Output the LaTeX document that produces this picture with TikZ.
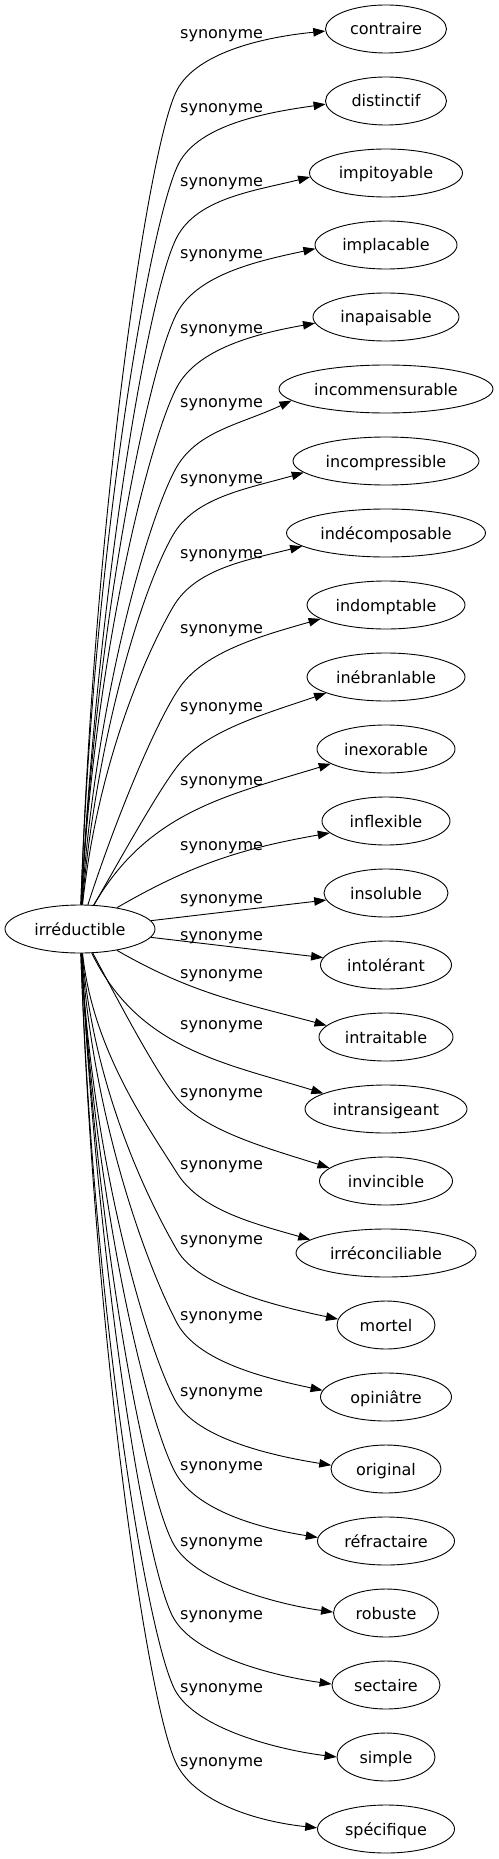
\documentclass[tikz,border=0pt]{standalone}
\usepackage{fontspec}
\setmainfont{DejaVu Sans}
\usetikzlibrary{arrows.meta,shapes.geometric}

\tikzset{
  word/.style={draw, ellipse, line width=0.9pt, inner xsep=0pt, inner ysep=3pt,
    minimum height=48pt, text height=12pt, text depth=0pt,
    font=\fontsize{16pt}{18pt}\selectfont},
  rel/.style={anchor=base west, inner sep=0pt, font=\fontsize{16pt}{18pt}\selectfont},
  syn/.style={-{Triangle[length=12pt,width=8.5pt]}, line width=0.9pt},
}

\begin{document}
\begin{tikzpicture}[x=1pt,y=1pt]
	\useasboundingbox (0,0) rectangle (498,-1859);

	% source word
	\node[word, minimum width=150pt] (irr) at (80,-929) {irréductible};

	% target words and edge labels
	\foreach \n/\word/\size/\lab in {0/contraire/121/38.5, 1/distinctif/121/112.5,
		2/impitoyable/153/186.5, 3/implacable/142/258.8, 4/inapaisable/146/333.2,
		5/incommensurable/214/407.2, 6/incompressible/186/483.2,
		7/indécomposable/199/558.2, 8/indomptable/158/633,
		9/inébranlable/158/711.5, 10/inexorable/138/785.5, 11/inflexible/128/850.5,
		12/insoluble/124/903.2, 13/intolérant/131/940.5, 14/intraitable/134/978.2,
		15/intransigeant/162/1029.5, 16/invincible/133/1097.2,
		17/irréconciliable/180/1169.5, 18/mortel/98/1244.8, 19/opiniâtre/131/1320.5,
		20/original/110/1396.5, 21/réfractaire/137/1470.8, 22/robuste/105/1546.2,
		23/sectaire/108/1619.5, 24/simple/98/1692.8, 25/spécifique/137/1766.5}
	{
		\node[word, minimum width=\size pt] (w\n) at (386,{-29-72*\n}) {\word};
		\node[rel] (l\n) at (180,-\lab) {synonyme};
	}

	% long edges, bent near the labels
	\foreach \n/\s/\bx/\by/\g/\dd/\a/\f in {0/88/177/90/62/60/182/5.5,
		1/88/179/163/62/60/183/8, 2/87/177/237/62/60/183/14,
		3/87/177/313/62/60/183/12, 4/87/177/387/62/60/185/10,
		5/86/175/470/62/60/187/25, 6/85/173/535/60/60/188/16,
		7/84/173/607/60/60/189/14, 8/72/180/687/55/40/192/16,
		9/60/180/763/50/30/195/19,
		16/-62/176/1097/-52/35/167/-18, 17/-84/177/1173/-58/55/170/-16,
		18/-85/177/1250/-60/60/173/-12, 19/-86/177/1323/-62/60/174/-12,
		20/-87/175/1400/-62/60/176/-9, 21/-87/175/1472/-62/60/177/-9,
		22/-87/173/1543/-62/60/179/-8, 23/-87/173/1617/-62/60/179/-8,
		24/-88/175/1690/-62/60/180/-7, 25/-88/177/1765/-62/60/179/-6}
	{
		\draw[syn] (irr) .. controls +(\s:{abs(929-\by)/2}) and +(\g+180:\dd) .. (\bx,-\by)
			.. controls +(\g:44) and +(\f+180:58) .. (w\n.\a);
	}

	% short edges in the middle
	\draw[syn] (irr) to[out=60, in=197] (w10.195);
	\draw[syn] (irr) to[out=30, in=190] (w11.192);
	\draw[syn] (irr) -- (w12);
	\draw[syn] (irr) -- (w13);
	\draw[syn] (irr) to[out=-30, in=165] (w14.169);
	\draw[syn] (irr) to[out=-64, in=163] (w15.166);

\end{tikzpicture}
\end{document}
